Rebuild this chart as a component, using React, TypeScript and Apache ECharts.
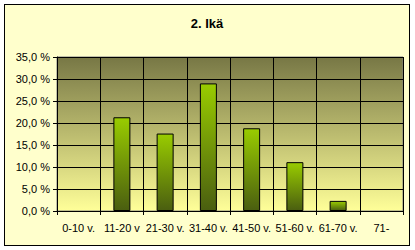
import React, { useEffect, useRef } from "react";
import * as echarts from "echarts";

const categories = ["0-10 v.", "11-20 v", "21-30 v.", "31-40 v.", "41-50 v.", "51-60 v.", "61-70 v.", "71-"];
const values = [0, 21.3, 17.6, 29.0, 18.8, 11.1, 2.3, 0];
const title = "2. Ikä";

export default function App() {
  const ref = useRef<HTMLDivElement>(null);
  useEffect(() => {
    const chart = echarts.init(ref.current!, null, { renderer: "svg" });
    chart.setOption({
      animation: false,
      backgroundColor: "#FFFFCC",
      title: {
        text: title,
        left: "center",
        top: 7,
        textStyle: { fontFamily: "Liberation Sans, Arial", fontSize: 13, fontWeight: "bold", color: "#000" },
      },
      grid: {
        left: 52,
        right: 6,
        top: 52,
        bottom: 34,
        show: true,
        borderColor: "#808080",
        borderWidth: 1,
        backgroundColor: {
          type: "linear",
          x: 0, y: 0, x2: 0, y2: 1,
          colorStops: [
            { offset: 0, color: "#777745" },
            { offset: 1, color: "#FFFF99" },
          ],
        },
      },
      xAxis: {
        type: "category",
        data: categories,
        axisLine: { lineStyle: { color: "#000", width: 1 } },
        axisTick: { show: true, length: 4, lineStyle: { color: "#000" } },
        axisLabel: { color: "#000", fontFamily: "Liberation Sans, Arial", fontSize: 11, margin: 11, interval: 0 },
        splitLine: { show: true, lineStyle: { color: "#000", width: 1 } },
      },
      yAxis: {
        type: "value",
        min: 0,
        max: 35,
        interval: 5,
        axisLine: { show: true, lineStyle: { color: "#000", width: 1 } },
        axisTick: { show: true, length: 4, lineStyle: { color: "#000" } },
        axisLabel: {
          color: "#000",
          fontFamily: "Liberation Sans, Arial",
          fontSize: 11,
          margin: 7,
          formatter: (v: number) => v.toFixed(1).replace(".", ",") + " %",
        },
        splitLine: { show: true, lineStyle: { color: "#000", width: 1 } },
      },
      series: [
        {
          type: "bar",
          data: values.map((v) => (v === 0 ? "-" : v)),
          barWidth: 17,
          itemStyle: {
            borderColor: "#000",
            borderWidth: 1,
            color: {
              type: "linear",
              x: 0, y: 0, x2: 0, y2: 1,
              colorStops: [
                { offset: 0, color: "#99CC00" },
                { offset: 1, color: "#4A5E10" },
              ],
            },
          },
        },
      ],
    });
    return () => chart.dispose();
  }, []);
  return (
    <div style={{ position: "fixed", left: 0, top: 0, width: 415, height: 250, background: "#fff" }}>
      <div
        ref={ref}
        style={{ position: "absolute", left: 4, top: 4, width: 406, height: 242, boxSizing: "border-box", border: "1px solid #000" }}
      />
    </div>
  );
}
